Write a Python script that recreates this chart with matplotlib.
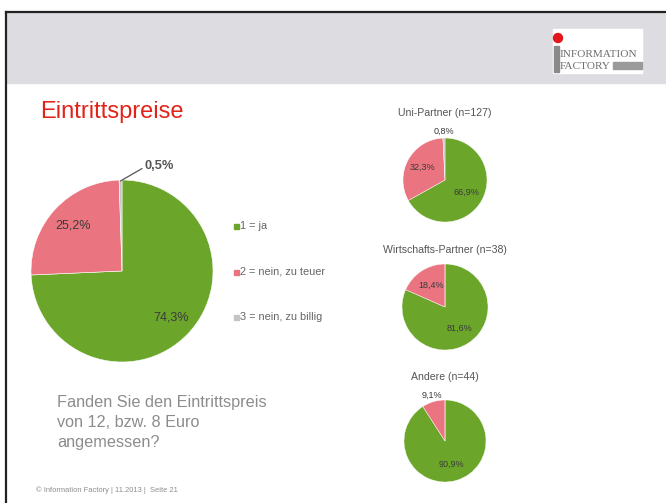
import matplotlib
matplotlib.use("Agg")
import matplotlib.pyplot as plt
from matplotlib.patches import Rectangle, Circle
import numpy as np

W, H = 666, 503

# data
categories = ["1 = ja", "2 = nein, zu teuer", "3 = nein, zu billig"]
colors = ["#6ba62a", "#ea7580", "#c4c4c4"]

total_values = [74.3, 25.2, 0.5]

group_titles = ["Uni-Partner (n=127)", "Wirtschafts-Partner (n=38)", "Andere (n=44)"]
group_values = [
    [66.9, 32.3, 0.8],
    [81.6, 18.4, 0.0],
    [90.9, 9.1, 0.0],
]

question = "Fanden Sie den Eintrittspreis\nvon 12, bzw. 8 Euro\nangemessen?"
footer = "\u00a9 Information Factory | 11.2013 |  Seite 21"

plt.rcParams['font.family'] = ['Liberation Sans', 'DejaVu Sans']

fig = plt.figure(figsize=(W / 100, H / 100), dpi=100)
fig.patch.set_facecolor("white")

# background layer in pixel coordinates
bg = fig.add_axes([0, 0, 1, 1])
bg.set_xlim(0, W)
bg.set_ylim(H, 0)
bg.axis("off")
bg.add_patch(Rectangle((7, 12), W - 7, 71, color="#dddce1", zorder=0))
bg.plot([6, W], [12, 12], color="#222222", lw=1.6)
bg.plot([6, 6], [12, H], color="#222222", lw=1.6)

# logo
bg.add_patch(Rectangle((553, 29), 89, 44, color="white", zorder=1))
bg.add_patch(Circle((558, 38), 4.5, color="#e3161b", zorder=2))
bg.add_patch(Rectangle((554, 46), 4.5, 26, color="#8a8a8a", zorder=2))
bg.text(560, 54, "INFORMATION", family="Liberation Serif", fontsize=8.1,
        color="#6e6e6e", va="center", ha="left", zorder=3)
bg.text(560, 66, "FACTORY", family="Liberation Serif", fontsize=8.1,
        color="#6e6e6e", va="center", ha="left", zorder=3)
bg.add_patch(Rectangle((613, 62), 29, 7, color="#9a9a9a", zorder=2))

# title and texts
bg.text(40, 118, "Eintrittspreise", fontsize=17, color="#e2231a", va="baseline")
bg.text(57, 395, question, fontsize=11.7, color="#8c8c8c", va="top",
        linespacing=1.42)
bg.text(36, 490, footer, fontsize=5.4, color="#8c8c8c", va="center")

# legend
leg_y = [226, 272, 317]
for lab, col, y in zip(categories, colors, leg_y):
    bg.add_patch(Rectangle((234, y - 2.5), 5, 5, color=col))
    bg.text(240, y, lab, fontsize=7.9, color="#666666", va="center")


def pie_axes(cx, cy, r):
    ax = fig.add_axes([(cx - r) / W, 1 - (cy + r) / H, 2 * r / W, 2 * r / H])
    ax.axis("off")
    return ax


def finish(ax):
    ax.set_xlim(-1, 1)
    ax.set_ylim(-1, 1)
    ax.set_aspect("equal")


def fmt(p):
    return f"{p:.1f}%".replace(".", ",")


# main pie
ax = pie_axes(122, 271, 91)
wedges, texts, autot = ax.pie(total_values, colors=colors, startangle=90,
                              counterclock=False, radius=1,
                              autopct=fmt, pctdistance=0.74,
                              wedgeprops=dict(linewidth=0.4, edgecolor="white"),
                              textprops=dict(fontsize=9, color="#3a3a3a"))
finish(ax)
autot[2].set_visible(False)
w = wedges[2]
mid = np.deg2rad((w.theta1 + w.theta2) / 2)
ax.annotate(fmt(total_values[2]), xy=(np.cos(mid) * 0.99, np.sin(mid) * 0.99),
            xytext=(0.25, 1.15), fontsize=9.3, fontweight="bold", color="#555555",
            va="center", ha="left", annotation_clip=False,
            arrowprops=dict(arrowstyle="-", color="#555555", lw=0.9,
                            connectionstyle="angle,angleA=0,angleB=30,rad=0",
                            shrinkA=0, shrinkB=0))

# group pies
centers = [(445, 180, 42), (445, 307, 43), (445, 441, 41)]
title_y = [113, 250, 377]
for vals, title, (cx, cy, r), ty in zip(group_values, group_titles, centers, title_y):
    bg.text(cx, ty, title, fontsize=7.6, color="#555555", ha="center", va="center")
    ax = pie_axes(cx, cy, r)
    wedges, texts, autot = ax.pie(vals, colors=colors, startangle=90,
                                  counterclock=False, radius=1,
                                  autopct=fmt, pctdistance=0.6,
                                  wedgeprops=dict(linewidth=0.3, edgecolor="white"),
                                  textprops=dict(fontsize=6.5, color="#3a3a3a"))
    finish(ax)
    for v, w, t in zip(vals, wedges, autot):
        if v == 0:
            t.set_visible(False)
        elif v < 10:
            mid = np.deg2rad((w.theta1 + w.theta2) / 2)
            t.set_position((np.cos(mid) * 1.17, np.sin(mid) * 1.17))
        t.set_clip_on(False)

fig.savefig("out.png", dpi=100, facecolor="white")
